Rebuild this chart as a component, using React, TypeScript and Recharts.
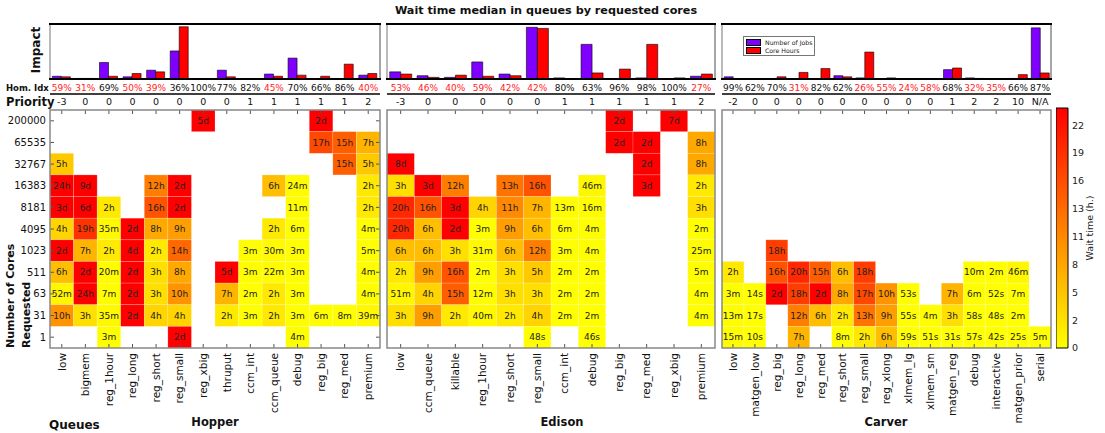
import React from "react";
import { BarChart, Bar, XAxis, YAxis, ScatterChart, Scatter, Legend } from "recharts";

const FONT = "DejaVu Sans, sans-serif";
const W = 1105;
const H = 433;
const VMAX = 23.7;

const IMPACT_TOP = 24;
const IMPACT_H = 55;
const HOM_H = 16;
const PLOT_TOP = 110;
const PLOT_H = 238;
const TOP_AXIS_H = 16;
const BOTTOM_AXIS_H = 75;

const CORE_ROWS = ["200000", "65535", "32767", "16383", "8181", "4095", "1023", "511", "63", "31", "1"];
const CBAR_TICKS = [0, 2.75, 5.5, 8.25, 11, 13.75, 16.5, 19.25, 22];
const SERIES_ORDER = ["jobs", "hours"];

// ---- Hopper ----
const HOPPER_QUEUES = ["low", "bigmem", "reg_1hour", "reg_long", "reg_short", "reg_small", "reg_xbig", "thruput", "ccm_int", "ccm_queue", "debug", "reg_big", "reg_med", "premium"];
const HOPPER_PRIORITY = ["-3", "0", "0", "0", "0", "0", "0", "0", "1", "1", "1", "1", "1", "2"];
const HOPPER_HOM = [59, 31, 69, 50, 39, 36, 100, 77, 82, 45, 70, 66, 86, 40];
const HOPPER_HOM_RED = [true, true, false, true, true, false, false, false, false, true, false, false, false, true];
const HOPPER_JOBS = [5, 1, 30, 4, 16, 51, 0, 16, 0.5, 9, 38, 0, 0, 7];
const HOPPER_HOURS = [4, 1, 5, 10, 13, 95, 0, 4, 0, 5, 7, 5, 27, 10];
const HOPPER_WAIT = [
  ["", "", "", "", "", "", "5d", "", "", "", "", "2d", "", ""],
  ["", "", "", "", "", "", "", "", "", "", "", "17h", "15h", "7h"],
  ["5h", "", "", "", "", "", "", "", "", "", "", "", "15h", "5h"],
  ["24h", "9d", "", "", "12h", "2d", "", "", "", "6h", "24m", "", "", "2h"],
  ["3d", "6d", "2h", "", "16h", "2d", "", "", "", "", "11m", "", "", "2h"],
  ["4h", "19h", "35m", "2d", "8h", "9h", "", "", "", "2h", "6m", "", "", "4m"],
  ["2d", "7h", "2h", "4d", "2h", "14h", "", "", "3m", "30m", "3m", "", "", "5m"],
  ["6h", "2d", "20m", "2d", "3h", "8h", "", "5d", "3m", "22m", "3m", "", "", "4m"],
  ["52m", "24h", "7m", "2d", "3h", "10h", "", "7h", "2m", "2h", "3m", "", "", "4m"],
  ["10h", "3h", "35m", "2d", "4h", "4h", "", "2h", "3m", "2h", "3m", "6m", "8m", "39m"],
  ["", "", "3m", "", "", "2d", "", "", "", "", "4m", "", "", ""],
];

// ---- Edison ----
const EDISON_QUEUES = ["low", "ccm_queue", "killable", "reg_1hour", "reg_short", "reg_small", "ccm_int", "debug", "reg_big", "reg_med", "reg_xbig", "premium"];
const EDISON_PRIORITY = ["-3", "0", "0", "0", "0", "0", "1", "1", "1", "1", "1", "2"];
const EDISON_HOM = [53, 46, 40, 59, 42, 42, 80, 63, 96, 98, 100, 27];
const EDISON_HOM_RED = [true, true, true, true, true, true, false, false, false, false, false, true];
const EDISON_JOBS = [13, 6, 3, 31, 9, 94, 2, 63, 0, 2, 0, 5];
const EDISON_HOURS = [9, 3, 7, 5, 6, 92, 0, 11, 18, 63, 2, 9];
const EDISON_WAIT = [
  ["", "", "", "", "", "", "", "", "2d", "", "7d", ""],
  ["", "", "", "", "", "", "", "", "2d", "2d", "", "8h"],
  ["8d", "", "", "", "", "", "", "", "", "2d", "", "8h"],
  ["3h", "3d", "12h", "", "13h", "16h", "", "46m", "", "3d", "", "2h"],
  ["20h", "16h", "3d", "4h", "11h", "7h", "13m", "16m", "", "", "", "3h"],
  ["20h", "6h", "2d", "3m", "9h", "6h", "6m", "4m", "", "", "", "2m"],
  ["6h", "6h", "3h", "31m", "6h", "12h", "3m", "4m", "", "", "", "25m"],
  ["2h", "9h", "16h", "2m", "3h", "5h", "2m", "2m", "", "", "", "5m"],
  ["51m", "4h", "15h", "12m", "3h", "3h", "2m", "2m", "", "", "", "4m"],
  ["3h", "9h", "2h", "40m", "2h", "4h", "2m", "2m", "", "", "", "4m"],
  ["", "", "", "", "", "48s", "", "46s", "", "", "", ""],
];

// ---- Carver ----
const CARVER_QUEUES = ["low", "matgen_low", "reg_big", "reg_long", "reg_med", "reg_short", "reg_small", "reg_xlong", "xlmem_lg", "xlmem_sm", "matgen_reg", "debug", "interactive", "matgen_prior", "serial"];
const CARVER_PRIORITY = ["-2", "0", "0", "0", "0", "0", "0", "0", "0", "0", "1", "2", "2", "10", "N/A"];
const CARVER_HOM = [99, 62, 70, 31, 82, 62, 26, 55, 24, 58, 68, 32, 35, 66, 87];
const CARVER_HOM_RED = [false, false, false, true, false, false, true, true, true, true, false, true, true, false, false];
const CARVER_JOBS = [4, 0, 0, 0, 0, 6, 2, 0, 0, 0, 17, 2, 0, 1, 93];
const CARVER_HOURS = [0, 0, 4, 12, 19, 4, 49, 2, 0, 0, 20, 1, 0, 8, 11];
const CARVER_WAIT = [
  ["", "", "", "", "", "", "", "", "", "", "", "", "", "", ""],
  ["", "", "", "", "", "", "", "", "", "", "", "", "", "", ""],
  ["", "", "", "", "", "", "", "", "", "", "", "", "", "", ""],
  ["", "", "", "", "", "", "", "", "", "", "", "", "", "", ""],
  ["", "", "", "", "", "", "", "", "", "", "", "", "", "", ""],
  ["", "", "", "", "", "", "", "", "", "", "", "", "", "", ""],
  ["", "", "18h", "", "", "", "", "", "", "", "", "", "", "", ""],
  ["2h", "", "16h", "20h", "15h", "6h", "18h", "", "", "", "", "10m", "2m", "46m", ""],
  ["3m", "14s", "2d", "18h", "2d", "8h", "17h", "10h", "53s", "", "7h", "6m", "52s", "7m", ""],
  ["13m", "17s", "", "12h", "6h", "2h", "13h", "9h", "55s", "4m", "3h", "58s", "48s", "2m", ""],
  ["15m", "10s", "", "7h", "", "8m", "2h", "6h", "59s", "51s", "31s", "57s", "42s", "25s", "5m"],
];

type Panel = {
  name: string;
  left: number;
  width: number;
  titleX: number;
  scaleLabel: string;
  showCores: boolean;
  legend: boolean;
  queues: string[];
  priority: string[];
  hom: number[];
  homRed: boolean[];
  jobs: number[];
  hours: number[];
  wait: string[][];
};

const PANELS: Panel[] = [
  { name: "Hopper", left: 50, width: 330, titleX: 215, scaleLabel: "60", showCores: true, legend: false,
    queues: HOPPER_QUEUES, priority: HOPPER_PRIORITY, hom: HOPPER_HOM, homRed: HOPPER_HOM_RED,
    jobs: HOPPER_JOBS, hours: HOPPER_HOURS, wait: HOPPER_WAIT },
  { name: "Edison", left: 387, width: 328, titleX: 562, scaleLabel: "45", showCores: false, legend: false,
    queues: EDISON_QUEUES, priority: EDISON_PRIORITY, hom: EDISON_HOM, homRed: EDISON_HOM_RED,
    jobs: EDISON_JOBS, hours: EDISON_HOURS, wait: EDISON_WAIT },
  { name: "Carver", left: 722, width: 329, titleX: 886, scaleLabel: "80", showCores: false, legend: true,
    queues: CARVER_QUEUES, priority: CARVER_PRIORITY, hom: CARVER_HOM, homRed: CARVER_HOM_RED,
    jobs: CARVER_JOBS, hours: CARVER_HOURS, wait: CARVER_WAIT },
];

// "2d" -> 48, "30m" -> 0.5 ...
function toHours(label: string): number {
  const n = parseFloat(label);
  const unit = label.slice(-1);
  if (unit === "d") return n * 24;
  if (unit === "h") return n;
  if (unit === "m") return n / 60;
  return n / 3600;
}

// matplotlib autumn_r
function heat(h: number): string {
  const t = Math.min(h, VMAX) / VMAX;
  return `rgb(255,${Math.round(255 * (1 - t))},0)`;
}

function Impact({ p }: { p: Panel }) {
  const data = p.queues.map((q, i) => ({ name: q, jobs: p.jobs[i], hours: p.hours[i] }));
  return (
    <div style={{ position: "absolute", left: p.left, top: IMPACT_TOP }}>
      <BarChart width={p.width} height={IMPACT_H + HOM_H} data={data}
        margin={{ top: 0, right: 0, bottom: 0, left: 0 }} barGap={0} barCategoryGap="10%">
        <XAxis dataKey="name" interval={0} height={HOM_H} tickSize={0} tickMargin={0} axisLine={false}
          tick={(t: any) => {
            const i = t.payload?.index ?? t.index;
            return (
              <text x={t.x} y={t.y + 12} textAnchor="middle" fontSize={9} fontFamily={FONT}
                fill={p.homRed[i] ? "#ff1a1a" : "#111"}>{p.hom[i]}%</text>
            );
          }} />
        <YAxis type="number" domain={[0, 100]} ticks={[57]} width={0} tickSize={0} tickMargin={0} axisLine={false}
          tick={(t: any) => (
            <text x={t.x + 3} y={t.y + 2} fontSize={5.5} fontFamily={FONT} fill="#222">{p.scaleLabel}</text>
          )} />
        {p.legend && (
          <Legend layout="vertical" align="center" verticalAlign="middle"
            wrapperStyle={{ left: 21, top: 12, width: 72, height: 19 }}
            content={(lp: any) => {
              const entries = (lp.payload || []).slice().sort(
                (a: any, b: any) => SERIES_ORDER.indexOf(a.dataKey) - SERIES_ORDER.indexOf(b.dataKey)
              );
              return (
                <div style={{ border: "1px solid #777", background: "#fff", width: 70, height: 17,
                  fontFamily: FONT, fontSize: 6.2, color: "#222", paddingTop: 1, whiteSpace: "nowrap" }}>
                  {entries.map((e: any) => (
                    <div key={e.value} style={{ display: "flex", alignItems: "center", height: 8.5, marginLeft: 2 }}>
                      <span style={{ display: "inline-block", width: 13, height: 5, background: e.color,
                        border: "0.5px solid #000", marginRight: 4, flexShrink: 0 }} />
                      {e.value}
                    </div>
                  ))}
                </div>
              );
            }} />
        )}
        <Bar dataKey="jobs" name="Number of Jobs" fill="#7f00ff" stroke="#000" strokeWidth={0.6} isAnimationActive={false} />
        <Bar dataKey="hours" name="Core Hours" fill="#ff0000" stroke="#000" strokeWidth={0.6} isAnimationActive={false} />
      </BarChart>
    </div>
  );
}

function Heatmap({ p }: { p: Panel }) {
  const n = p.queues.length;
  const rows = CORE_ROWS.length;
  const cw = p.width / n;
  const ch = PLOT_H / rows;
  const yW = p.showCores ? 50 : 0;
  const cells: { x: number; y: number; label: string; fill: string }[] = [];
  p.wait.forEach((row, r) =>
    row.forEach((lab, c) => {
      if (lab) cells.push({ x: c + 0.5, y: rows - r - 0.5, label: lab, fill: heat(toHours(lab)) });
    })
  );
  const xTicks = p.queues.map((_, i) => i + 0.5);
  const yTicks = CORE_ROWS.map((_, i) => i + 0.5);
  const tickColor = "#555";

  return (
    <div style={{ position: "absolute", left: p.left - yW, top: PLOT_TOP - TOP_AXIS_H }}>
      <ScatterChart width={yW + p.width} height={TOP_AXIS_H + PLOT_H + BOTTOM_AXIS_H}
        margin={{ top: 0, right: 0, bottom: 0, left: 0 }}>
        <XAxis xAxisId="q" type="number" dataKey="x" domain={[0, n]} ticks={xTicks} interval={0}
          height={BOTTOM_AXIS_H} tickSize={0} tickMargin={0} axisLine={false}
          tick={(t: any) => {
            const i = Math.round(t.payload.value - 0.5);
            return (
              <g>
                <line x1={t.x} x2={t.x} y1={t.y} y2={t.y - 4} stroke={tickColor} />
                <text transform={`translate(${t.x + 3.8},${t.y + 5}) rotate(-90)`} textAnchor="end"
                  fontSize={10.5} fontFamily={FONT} fill="#111">{p.queues[i]}</text>
              </g>
            );
          }} />
        <XAxis xAxisId="p" orientation="top" type="number" dataKey="x" domain={[0, n]} ticks={xTicks} interval={0}
          height={TOP_AXIS_H} tickSize={0} tickMargin={0} axisLine={false}
          tick={(t: any) => {
            const i = Math.round(t.payload.value - 0.5);
            return (
              <g>
                <line x1={t.x} x2={t.x} y1={t.y} y2={t.y + 4} stroke={tickColor} />
                <text x={t.x} y={t.y - 5.5} textAnchor="middle" fontSize={9.5} fontFamily={FONT} fill="#111">
                  {p.priority[i]}
                </text>
              </g>
            );
          }} />
        <YAxis yAxisId="c" type="number" dataKey="y" domain={[0, rows]} ticks={yTicks} interval={0}
          width={yW} tickSize={0} tickMargin={0} axisLine={false}
          tick={(t: any) => {
            const i = rows - 1 - Math.round(t.payload.value - 0.5);
            return (
              <g>
                <line x1={t.x} x2={t.x + 4} y1={t.y} y2={t.y} stroke={tickColor} />
                <line x1={t.x + p.width} x2={t.x + p.width - 4} y1={t.y} y2={t.y} stroke={tickColor} />
                {p.showCores && (
                  <text x={t.x - 4} y={t.y + 3.5} textAnchor="end" fontSize={10} fontFamily={FONT} fill="#111">
                    {CORE_ROWS[i]}
                  </text>
                )}
              </g>
            );
          }} />
        <Scatter xAxisId="p" yAxisId="c" data={cells} isAnimationActive={false} shape={() => <g />} />
        <Scatter xAxisId="q" yAxisId="c" data={cells} isAnimationActive={false}
          shape={(s: any) => (
            <g>
              <rect x={s.cx - cw / 2} y={s.cy - ch / 2} width={cw} height={ch} fill={s.payload.fill}
                stroke="rgba(255,255,255,0.3)" strokeWidth={0.6} />
              <text x={s.cx} y={s.cy + 3.2} textAnchor="middle" fontSize={9} fontFamily={FONT} fill="#222">
                {s.payload.label}
              </text>
            </g>
          )} />
      </ScatterChart>
    </div>
  );
}

function ColorBar() {
  const pad = 6;
  return (
    <div style={{ position: "absolute", left: 1056, top: 108 - pad }}>
      <BarChart width={12 + 30} height={240 + 2 * pad} data={[{ name: "wait", v: VMAX }]}
        margin={{ top: pad, right: 0, bottom: pad, left: 0 }} barCategoryGap={0}>
        <defs>
          <linearGradient id="cbar" x1="0" y1="0" x2="0" y2="1">
            <stop offset="0%" stopColor="#ff0000" />
            <stop offset="100%" stopColor="#ffff00" />
          </linearGradient>
        </defs>
        <XAxis dataKey="name" hide />
        <YAxis orientation="right" type="number" domain={[0, VMAX]} ticks={CBAR_TICKS} interval={0} width={30}
          tickFormatter={(v: number) => String(Math.floor(v))} tickSize={0} tickMargin={4} axisLine={false}
          tick={{ fontSize: 9.5, fill: "#222", fontFamily: FONT }} />
        <Bar dataKey="v" fill="url(#cbar)" stroke="#000" strokeWidth={1} isAnimationActive={false} />
      </BarChart>
    </div>
  );
}

export default function App() {
  return (
    <div style={{ position: "absolute", left: 0, top: 0, width: W, height: H, background: "#fff", overflow: "hidden" }}>
      <svg width={W} height={H} style={{ position: "absolute", left: 0, top: 0 }} fontFamily={FONT}>
        <text x={546} y={14} textAnchor="middle" fontSize={11.2} fontWeight="bold" fill="#111">
          Wait time median in queues by requested cores
        </text>
        <text transform="translate(39.5,50) rotate(-90)" textAnchor="middle" fontSize={12} fontWeight="bold" fill="#111">
          Impact
        </text>
        <text x={6} y={91} fontSize={8.5} fontWeight="bold" fill="#111">Hom. Idx</text>
        <text x={6} y={105.5} fontSize={11.5} fontWeight="bold" fill="#111">Priority</text>
        <text transform="translate(14,348) rotate(-90)" fontSize={11} fontWeight="bold" fill="#111">Number of Cores</text>
        <text transform="translate(29.5,348) rotate(-90)" fontSize={11} fontWeight="bold" fill="#111">Requested</text>
        <text x={49} y={429} fontSize={12} fontWeight="bold" fill="#111">Queues</text>
        {PANELS.map((p) => (
          <text key={p.name} x={p.titleX} y={426} textAnchor="middle" fontSize={11.5} fontWeight="bold" fill="#111">
            {p.name}
          </text>
        ))}
        <text transform="translate(1093,228) rotate(-90)" textAnchor="middle" fontSize={9.5} fill="#222">
          Wait time (h.)
        </text>
      </svg>
      {PANELS.map((p) => <Impact key={"i" + p.name} p={p} />)}
      {PANELS.map((p) => <Heatmap key={"h" + p.name} p={p} />)}
      <ColorBar />
      <svg width={W} height={H} style={{ position: "absolute", left: 0, top: 0, pointerEvents: "none" }}>
        {PANELS.map((p) => (
          <g key={"f" + p.name}>
            <line x1={p.left} x2={p.left} y1={IMPACT_TOP} y2={IMPACT_TOP + IMPACT_H} stroke="#777" strokeWidth={1} />
            <line x1={p.left + p.width} x2={p.left + p.width} y1={IMPACT_TOP} y2={IMPACT_TOP + IMPACT_H} stroke="#888" strokeWidth={1.5} />
            <line x1={p.left - 1} x2={p.left + p.width + 1} y1={IMPACT_TOP} y2={IMPACT_TOP} stroke="#000" strokeWidth={2} />
            <line x1={p.left - 1} x2={p.left + p.width + 1} y1={IMPACT_TOP + IMPACT_H} y2={IMPACT_TOP + IMPACT_H} stroke="#000" strokeWidth={2} />
            <line x1={p.left} x2={p.left + p.width} y1={94} y2={94} stroke="#000" strokeWidth={1.5} />
            <rect x={p.left} y={PLOT_TOP} width={p.width} height={PLOT_H} fill="none" stroke="#888" strokeWidth={1.5} />
          </g>
        ))}
      </svg>
    </div>
  );
}
